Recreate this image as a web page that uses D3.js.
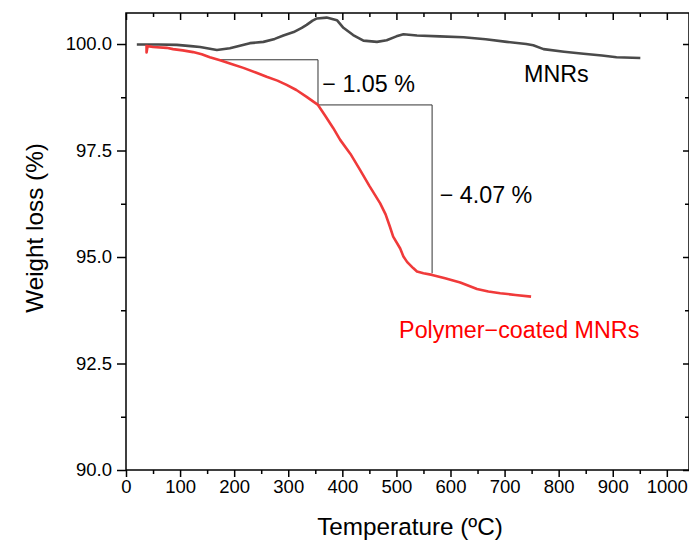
<!DOCTYPE html>
<html>
<head>
<meta charset="utf-8">
<script src="https://cdn.jsdelivr.net/npm/d3@7"></script>
<style>
  html, body { margin: 0; padding: 0; background: #fff; }
  svg { display: block; font-family: Arial, "Liberation Sans", sans-serif; }
</style>
</head>
<body>
<svg id="chart" width="689" height="541"></svg>
<script>
// ---- data ----
const xTicks = [0, 100, 200, 300, 400, 500, 600, 700, 800, 900, 1000];
const yTicks = [90.0, 92.5, 95.0, 97.5, 100.0];

// MNRs (temperature °C, weight %)
const mnrT = [20, 60, 94, 120, 137, 168, 192, 229, 254, 275, 291, 310, 325, 334, 345, 353, 371, 390, 402, 420, 439, 464, 482, 500, 513, 538, 580, 624, 665, 704, 740, 753, 772, 810, 846, 880, 907, 951];
const mnrW = [99.99, 99.99, 99.98, 99.95, 99.93, 99.86, 99.90, 100.02, 100.05, 100.12, 100.20, 100.28, 100.38, 100.45, 100.55, 100.60, 100.62, 100.56, 100.38, 100.21, 100.08, 100.05, 100.09, 100.18, 100.23, 100.20, 100.18, 100.16, 100.11, 100.05, 100.00, 99.97, 99.88, 99.82, 99.77, 99.73, 99.69, 99.67];

// Polymer-coated MNRs
const pcT = [38, 38, 40, 50, 75, 87, 105, 124, 140, 155, 174, 195, 217, 240, 260, 280, 297, 315, 334, 355, 368, 383, 396, 415, 433, 450, 470, 480, 488, 494, 507, 513, 520, 531, 538, 550, 566, 590, 618, 649, 670, 692, 720, 749];
const pcW = [99.98, 99.80, 99.95, 99.93, 99.91, 99.88, 99.85, 99.81, 99.76, 99.69, 99.62, 99.53, 99.44, 99.33, 99.23, 99.14, 99.04, 98.92, 98.76, 98.57, 98.32, 98.03, 97.75, 97.42, 97.04, 96.67, 96.26, 96.00, 95.71, 95.48, 95.20, 95.01, 94.88, 94.74, 94.66, 94.62, 94.58, 94.50, 94.40, 94.25, 94.19, 94.15, 94.11, 94.07];

// step annotations (temperature, weight)
const step1T = [174, 355, 355];
const step1W = [99.63, 99.63, 98.57];
const step2T = [355, 566, 566];
const step2W = [98.57, 98.57, 94.62];

const labelTexts = ["\u2212 1.05 %", "\u2212 4.07 %", "MNRs", "Polymer\u2212coated MNRs"];
const labelT = [363, 580, 736, 505];
const labelW = [98.87, 96.27, 99.11, 93.10];

// ---- drawing ----
(function () {
const svg = d3.select("#chart");
const x = d3.scaleLinear().domain([0, 1041]).range([126, 689]);
const y = d3.scaleLinear().domain([90, 100.728]).range([470, 13]);

const xMinor = d3.range(50, 1041, 100);
const yMinor = [91.25, 93.75, 96.25, 98.75];

function tidy(g) {
  g.select(".domain").remove();
  g.selectAll("line").attr("stroke-width", 1.5);
  return g;
}

// frame
svg.append("rect")
  .attr("x", x(0)).attr("y", y(100.728))
  .attr("width", x(1041) - x(0)).attr("height", y(90) - y(100.728))
  .attr("fill", "none").attr("stroke", "#000").attr("stroke-width", 1.5);

// bottom axis
const gBottom = tidy(svg.append("g").attr("transform", `translate(0,${y(90)})`)
  .call(d3.axisBottom(x).tickValues(xTicks).tickSize(7).tickPadding(3).tickFormat(d3.format("d"))));
gBottom.selectAll("text").attr("font-size", "18.5px").attr("fill", "#000")
  .attr("font-family", "Arial, 'Liberation Sans', sans-serif");
tidy(svg.append("g").attr("transform", `translate(0,${y(90)})`)
  .call(d3.axisBottom(x).tickValues(xMinor).tickSize(4).tickFormat("")));

// top axis (inward)
tidy(svg.append("g").attr("transform", `translate(0,${y(100.728)})`)
  .call(d3.axisTop(x).tickValues(xTicks).tickSize(-7).tickFormat("")));
tidy(svg.append("g").attr("transform", `translate(0,${y(100.728)})`)
  .call(d3.axisTop(x).tickValues(xMinor).tickSize(-4).tickFormat("")));

// left axis
const gLeft = tidy(svg.append("g").attr("transform", `translate(${x(0)},0)`)
  .call(d3.axisLeft(y).tickValues(yTicks).tickSize(9).tickPadding(5).tickFormat(d3.format(".1f"))));
gLeft.selectAll("text").attr("font-size", "18.5px").attr("fill", "#000")
  .attr("font-family", "Arial, 'Liberation Sans', sans-serif");
tidy(svg.append("g").attr("transform", `translate(${x(0)},0)`)
  .call(d3.axisLeft(y).tickValues(yMinor).tickSize(5).tickFormat("")));

// right axis (inward)
tidy(svg.append("g").attr("transform", `translate(${x(1041)},0)`)
  .call(d3.axisRight(y).tickValues(yTicks).tickSize(-6).tickFormat("")));
tidy(svg.append("g").attr("transform", `translate(${x(1041)},0)`)
  .call(d3.axisRight(y).tickValues(yMinor).tickSize(-4).tickFormat("")));

// axis titles
svg.append("text").attr("x", 410).attr("y", 535)
  .attr("text-anchor", "middle").attr("font-size", "24.3px").attr("fill", "#000")
  .text("Temperature (\u00BAC)");
svg.append("text").attr("transform", `translate(43,228) rotate(-90)`)
  .attr("text-anchor", "middle").attr("font-size", "24.3px").attr("fill", "#000")
  .text("Weight loss (%)");

// step lines
const line = d3.line().x(d => x(d[0])).y(d => y(d[1]));
[[step1T, step1W], [step2T, step2W]].forEach(([ts, ws]) => {
  svg.append("path").datum(ts.map((t, i) => [t, ws[i]]))
    .attr("d", line).attr("fill", "none").attr("stroke", "#333").attr("stroke-width", 1);
});

// curves
svg.append("path").datum(mnrT.map((t, i) => [t, mnrW[i]]))
  .attr("d", line).attr("fill", "none").attr("stroke", "#4a4a4a")
  .attr("stroke-width", 2.6).attr("stroke-linejoin", "round");
svg.append("path").datum(pcT.map((t, i) => [t, pcW[i]]))
  .attr("d", line).attr("fill", "none").attr("stroke", "#f03a3a")
  .attr("stroke-width", 2.6).attr("stroke-linejoin", "round");

// labels
const labelColors = ["#000", "#000", "#000", "#ff0000"];
labelTexts.forEach((s, i) => {
  svg.append("text").attr("x", x(labelT[i])).attr("y", y(labelW[i]))
    .attr("font-size", "23.3px").attr("fill", labelColors[i]).text(s);
});
})();
</script>
</body>
</html>
